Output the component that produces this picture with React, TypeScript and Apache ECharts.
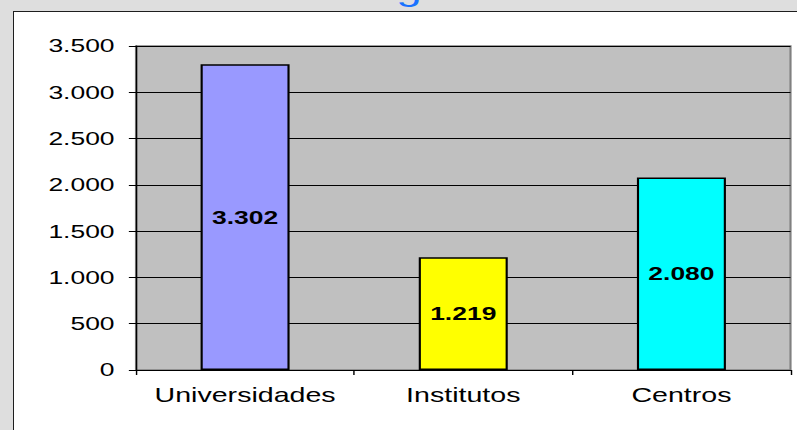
import React, { useEffect, useRef } from "react";
import * as echarts from "echarts";

// ---- data ----
const categories = ["Universidades", "Institutos", "Centros"];
const values = [3302, 1219, 2080];
const barColors = ["#9999ff", "#ffff00", "#00ffff"];
const yTicks = [0, 500, 1000, 1500, 2000, 2500, 3000, 3500];
const titleText = "g";

// horizontal stretch of the reference picture
const S = 1.43;
const FULL_W = 797;
const FULL_H = 430;
const W = FULL_W / S;
const FONT = "'Liberation Sans', Arial, sans-serif";

const fmt = (v: number) =>
  String(v).replace(/\B(?=(\d{3})+(?!\d))/g, ".");

export default function App() {
  const ref = useRef<HTMLDivElement>(null);

  useEffect(() => {
    if (!ref.current) return;
    const chart = echarts.init(ref.current, undefined, { renderer: "svg" });
    const yMin = yTicks[0];
    const yMax = yTicks[yTicks.length - 1];
    const yInterval = yTicks[1] - yTicks[0];
    chart.setOption({
      animation: false,
      textStyle: { fontFamily: FONT },
      graphic: [
        {
          type: "text",
          x: 409 / S,
          y: -11,
          style: {
            text: titleText,
            font: `32px ${FONT}`,
            fill: "#1a73ff",
            align: "center",
            verticalAlign: "middle",
          },
        },
      ],
      grid: {
        left: 136 / S,
        right: W - 791 / S,
        top: 46,
        bottom: FULL_H - 370,
        show: true,
        backgroundColor: "#c0c0c0",
        borderColor: "#808080",
        borderWidth: 1.5,
        containLabel: false,
      },
      xAxis: {
        type: "category",
        data: categories,
        boundaryGap: true,
        axisLine: { show: true, lineStyle: { color: "#000", width: 1 } },
        axisTick: {
          show: true,
          length: 5,
          alignWithLabel: false,
          interval: 0,
          lineStyle: { color: "#000" },
        },
        axisLabel: {
          interval: 0,
          hideOverlap: false,
          margin: 15,
          fontSize: 20,
          color: "#000",
          fontFamily: FONT,
        },
        splitLine: { show: false },
      },
      yAxis: {
        type: "value",
        min: yMin,
        max: yMax,
        interval: yInterval,
        axisLine: { show: true, lineStyle: { color: "#000", width: 1 } },
        axisTick: { show: true, length: 5, lineStyle: { color: "#000" } },
        axisLabel: {
          margin: 15,
          fontSize: 18.5,
          color: "#000",
          fontFamily: FONT,
          formatter: (v: number) => fmt(v),
        },
        splitLine: { show: true, lineStyle: { color: "#000", width: 1 } },
      },
      series: [
        {
          type: "bar",
          barWidth: "40.8%",
          data: values.map((v, i) => ({
            value: v,
            itemStyle: {
              color: barColors[i],
              borderColor: "#000",
              borderWidth: 1.5,
            },
          })),
          label: {
            show: true,
            position: "inside",
            color: "#000",
            fontWeight: "bold",
            fontSize: 18.5,
            fontFamily: FONT,
            formatter: (p: any) => fmt(p.value),
          },
        },
      ],
    });
    return () => chart.dispose();
  }, []);

  return (
    <div
      style={{
        position: "fixed",
        left: 0,
        top: 0,
        width: FULL_W,
        height: FULL_H,
        overflow: "hidden",
        background: "#dedede",
      }}
    >
      <div
        style={{
          position: "absolute",
          left: 13,
          top: 11,
          width: FULL_W,
          height: FULL_H,
          background: "#ffffff",
          borderLeft: "1px solid #1e1e1e",
          borderTop: "1px solid #1e1e1e",
        }}
      />
      <div
        ref={ref}
        style={{
          position: "absolute",
          left: 0,
          top: 0,
          width: W,
          height: FULL_H,
          transform: `scaleX(${S})`,
          transformOrigin: "0 0",
        }}
      />
    </div>
  );
}
